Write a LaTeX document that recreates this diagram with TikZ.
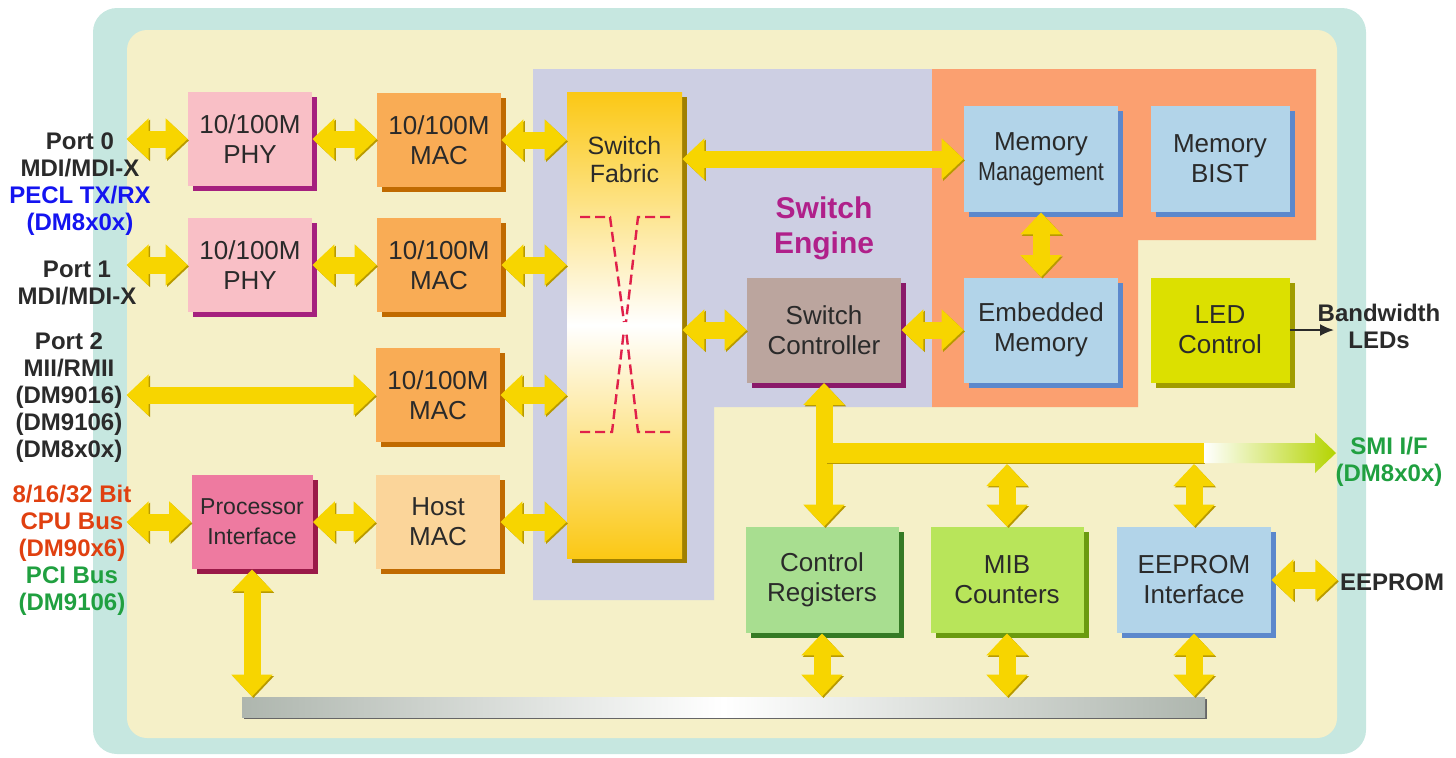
\documentclass[tikz,border=0pt]{standalone}
\usepackage{fontspec}
\setmainfont{Liberation Sans}
\usepackage{graphicx}
\usetikzlibrary{arrows.meta,shadows,positioning}

\definecolor{tealbg}{HTML}{C6E7E0}
\definecolor{creambg}{HTML}{F5F0C8}
\definecolor{lavbg}{HTML}{CDCFE3}
\definecolor{memreg}{HTML}{FBA070}
\definecolor{phyc}{HTML}{F9BFC6}
\definecolor{phyd}{HTML}{A5207E}
\definecolor{macc}{HTML}{F9AC55}
\definecolor{macd}{HTML}{C06A00}
\definecolor{hostc}{HTML}{FBD59A}
\definecolor{procc}{HTML}{EE7AA0}
\definecolor{procd}{HTML}{9A1A48}
\definecolor{fabc}{HTML}{FBC815}
\definecolor{fabd}{HTML}{A08000}
\definecolor{ctrlc}{HTML}{BBA59E}
\definecolor{ctrld}{HTML}{8A1A6A}
\definecolor{memc}{HTML}{B2D4E9}
\definecolor{memd}{HTML}{5C88CC}
\definecolor{ledc}{HTML}{DCE000}
\definecolor{ledd}{HTML}{A09C00}
\definecolor{cregc}{HTML}{A8DE90}
\definecolor{cregd}{HTML}{357A25}
\definecolor{mibc}{HTML}{B8E55A}
\definecolor{mibd}{HTML}{6A9A10}
\definecolor{arrowy}{HTML}{F7D500}
\definecolor{arrowd}{HTML}{B89A00}
\definecolor{smig}{HTML}{B4D400}
\definecolor{busgray}{HTML}{AEB6AE}
\definecolor{xred}{HTML}{E0204A}
\definecolor{engc}{HTML}{B0208A}
\definecolor{peclblue}{HTML}{1414F0}
\definecolor{cpured}{HTML}{E04010}
\definecolor{pcigreen}{HTML}{20A040}
\definecolor{txt}{HTML}{2A2A2A}

\begin{document}
\begin{tikzpicture}[x=0.5pt,y=-0.5pt,
    blk/.style={rectangle,inner sep=0pt,minimum width=62pt,minimum height=47pt,align=center,
      font=\fontsize{13}{15}\selectfont,text=txt},
    shd/.style={drop shadow={shadow xshift=2.5pt,shadow yshift=-2.5pt,fill=#1,opacity=1}},
    dbl/.style={draw=arrowy,line width=8.5pt,{Triangle[width=20pt,length=11pt]}-{Triangle[width=20pt,length=11pt]},
      preaction={draw=arrowd,transform canvas={shift={(0.7pt,-0.7pt)}}}},
    lbl/.style={align=center,inner sep=0pt,font=\bfseries\fontsize{12}{13.5}\selectfont,text=txt},
    xdash/.style={draw=xred,line width=1.2pt,dash pattern=on 5pt off 2.5pt}]
  \useasboundingbox (0,0) rectangle (1456,757);

  % Frame
  \fill[tealbg,rounded corners=12pt] (93,8) rectangle (1366,754);
  \node[fill=creambg,rounded corners=10pt,inner sep=0pt,minimum width=605pt,minimum height=354pt] (core) at (732,384) {};

  % Switch engine and memory regions
  \fill[lavbg] (533,69) -- (932,69) -- (932,407) -- (714,407) -- (714,600) -- (533,600) -- cycle;
  \fill[memreg] (932,69) -- (1316,69) -- (1316,240) -- (1138,240) -- (1138,407) -- (932,407) -- cycle;
  \node[align=center,font=\bfseries\fontsize{15}{17.5}\selectfont,text=engc] (eng) at (824,228) {Switch\\Engine};

  % Port side
  \node[blk,fill=phyc,shd=phyd] (phy0) at (250,139) {10/100M\\PHY};
  \node[blk,fill=phyc,shd=phyd] (phy1) at (250,265) {10/100M\\PHY};
  \node[blk,fill=macc,shd=macd] (mac0) at (439,140) {10/100M\\MAC};
  \node[blk,fill=macc,shd=macd] (mac1) at (439,265) {10/100M\\MAC};
  \node[blk,fill=macc,shd=macd] (mac2) at (438,395) {10/100M\\MAC};
  \node[blk,fill=hostc,shd=macd] (hmac) at (438,522) {Host\\MAC};
  \node[blk,fill=procc,shd=procd,minimum width=60.5pt,font=\fontsize{11.5}{15}\selectfont] (cpuif) at (252,522) {Processor\\Interface};

  % Switch fabric
  \node[rectangle,inner sep=0pt,minimum width=57.5pt,minimum height=233pt,
    top color=fabc,bottom color=fabc,middle color=white,shd=fabd] (fabric) at (624.5,325) {};
  \node[below=22pt of fabric.north,blk,minimum width=0pt,minimum height=0pt,font=\fontsize{12.5}{14}\selectfont] (fabtxt) {Switch\\Fabric};
  \draw[xdash] (580,217) -- (610,217) -- (624,322);
  \draw[xdash] (670,217) -- (638,217) -- (626,322);
  \draw[xdash] (580,432) -- (612,432) -- (624,330);
  \draw[xdash] (670,432) -- (638,432) -- (626,330);

  % Engine and memory blocks
  \node[blk,fill=ctrlc,shd=ctrld,minimum width=77pt,minimum height=52.5pt] (ctrl) at (824,330) {Switch\\Controller};
  \node[blk,fill=memc,shd=memd,minimum width=77pt,minimum height=53pt] (mm) at (1041,159) {Memory\\\scalebox{0.83}[1]{Management}};
  \node[blk,fill=memc,shd=memd,minimum width=69.5pt,minimum height=53pt] (bist) at (1220,159) {Memory\\BIST};
  \node[blk,fill=memc,shd=memd,minimum width=77pt,minimum height=52.5pt] (emem) at (1041,330) {Embedded\\Memory};
  \node[blk,fill=ledc,shd=ledd,minimum width=69.5pt,minimum height=52.5pt] (led) at (1220,330) {LED\\Control};

  % Register blocks
  \node[blk,fill=cregc,shd=cregd,minimum width=76.5pt,minimum height=53pt] (creg) at (822,580) {Control\\Registers};
  \node[blk,fill=mibc,shd=mibd,minimum width=76.5pt,minimum height=53pt] (mib) at (1007,580) {MIB\\Counters};
  \node[blk,fill=memc,shd=memd,minimum width=77pt,minimum height=53pt] (eepi) at (1194,580) {EEPROM\\Interface};

  % Internal bus
  \node[rectangle,inner sep=0pt,minimum width=481.5pt,minimum height=10pt,
    left color=busgray,right color=busgray,middle color=white,
    drop shadow={shadow xshift=0.8pt,shadow yshift=-0.8pt,fill=gray!80!black,opacity=1}] (bus) at (723.5,707) {};

  % Outside labels
  \node[lbl] (port0) at (80,184) {Port 0\\MDI/MDI-X\\\textcolor{peclblue}{PECL TX/RX}\\\textcolor{peclblue}{(DM8x0x)}};
  \node[lbl] (port1) at (77,283) {Port 1\\MDI/MDI-X};
  \node[lbl] (port2) at (69,398) {Port 2\\MII/RMII\\(DM9016)\\(DM9106)\\(DM8x0x)};
  \node[lbl,text=cpured] (cpubus) at (72,550) {8/16/32 Bit\\CPU Bus\\(DM90x6)\\\textcolor{pcigreen}{PCI Bus}\\\textcolor{pcigreen}{(DM9106)}};
  \node[lbl] (leds) at (1379,326) {Bandwidth\\LEDs};
  \node[lbl,text=pcigreen] (smi) at (1389,462) {SMI I/F\\(DM8x0x)};
  \node[lbl] (eeprom) at (1392,582) {EEPROM};

  % Data paths
  \draw[dbl] (phy0.west -| core.west) -- (phy0.west);
  \draw[dbl] (phy0.east) -- (phy0.east -| mac0.west);
  \draw[dbl] (mac0.east) -- (mac0.east -| fabric.west);
  \draw[dbl] (phy1.west -| core.west) -- (phy1.west);
  \draw[dbl] (phy1.east) -- (phy1.east -| mac1.west);
  \draw[dbl] (mac1.east) -- (mac1.east -| fabric.west);
  \draw[dbl] (mac2.west -| core.west) -- (mac2.west);
  \draw[dbl] (mac2.east) -- (mac2.east -| fabric.west);
  \draw[dbl] (cpuif.west -| core.west) -- (cpuif.west);
  \draw[dbl] (cpuif.east) -- (cpuif.east -| hmac.west);
  \draw[dbl] (hmac.east) -- (hmac.east -| fabric.west);
  \draw[dbl] (fabric.east |- mm.west) -- (mm.west);
  \draw[dbl] (fabric.east |- ctrl.west) -- (ctrl.west);
  \draw[dbl] (ctrl.east) -- (emem.west);
  \draw[dbl] (mm.south) -- (emem.north);

  % SMI bus
  \coordinate (smijoin) at (826,453);
  \coordinate (smifade) at (1204,453);
  \coordinate (smiedge) at (826,464);
  \draw[dbl] (ctrl.south) -- (ctrl.south |- creg.north);
  \draw[dbl] (mib.north |- smiedge) -- (mib.north);
  \draw[dbl] (eepi.north |- smiedge) -- (eepi.north);
  \draw[draw=arrowd,line width=10pt,transform canvas={shift={(0.7pt,-0.7pt)}}] (smijoin) -- (smifade);
  \draw[draw=arrowy,line width=10pt] (smijoin) -- (smifade);
  \shade[left color=white,right color=smig] (smifade) ++(0,-10) -- ++(111,0) -- ++(0,-10)
    -- ++(21,20) -- ++(-21,20) -- ++(0,-10) -- ++(-111,0) -- cycle;

  % To the internal bus
  \draw[dbl] (cpuif.south) -- (cpuif.south |- bus.north);
  \draw[dbl] (creg.south) -- (creg.south |- bus.north);
  \draw[dbl] (mib.south) -- (mib.south |- bus.north);
  \draw[dbl] (eepi.south) -- (eepi.south |- bus.north);
  \draw[dbl] (eepi.east) -- (eepi.east -| core.east);

  % LED output
  \coordinate (ledtip) at (1334,330);
  \draw[txt,line width=1pt,-{Latex[length=7pt,width=6pt]}] (led.east) -- (ledtip);
\end{tikzpicture}
\end{document}
